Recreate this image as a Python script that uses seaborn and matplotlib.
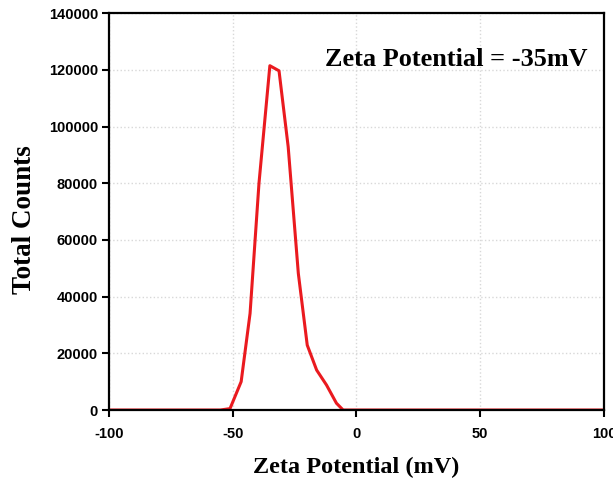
import matplotlib
matplotlib.use("Agg")
import matplotlib.pyplot as plt
import seaborn as sns
import pandas as pd

zeta_mv = [-100, -55, -51.1, -46.6, -43.0, -39.4, -35.0, -31.3, -27.6, -23.5,
           -19.9, -16.1, -12.1, -8.1, -5.4, 100]
counts = [0, 0, 500, 10000, 34100, 80000, 121500, 119700, 92900, 48200,
          22900, 14100, 8800, 2400, 0, 0]
x_ticks = [-100, -50, 0, 50, 100]
y_ticks = [0, 20000, 40000, 60000, 80000, 100000, 120000, 140000]
annotation = "Zeta Potential = -35mV"

df = pd.DataFrame({"Zeta": zeta_mv, "Counts": counts})

sns.set_style("white")
plt.rcParams["text.color"] = "black"
plt.rcParams["axes.labelcolor"] = "black"
plt.rcParams["xtick.color"] = "black"
plt.rcParams["ytick.color"] = "black"

fig = plt.figure(figsize=(6.13, 4.83), dpi=100)
ax = fig.add_axes([0.1778, 0.1511, 0.8075, 0.8214])

sns.lineplot(data=df, x="Zeta", y="Counts", ax=ax, color="#ea1a1f",
             linewidth=2.2, sort=False)

ax.set_xlim(-100, 100)
ax.set_ylim(0, 140000)
ax.set_xticks(x_ticks)
ax.set_yticks(y_ticks)
ax.set_xticklabels([str(v) for v in x_ticks], fontfamily="Liberation Sans",
                   fontweight="bold", fontsize=10.5, color="black")
ax.set_yticklabels([str(v) for v in y_ticks], fontfamily="Liberation Sans",
                   fontweight="bold", fontsize=10.5, color="black")
ax.grid(True, color="#d8d8d8", linestyle=":", linewidth=1)
ax.tick_params(direction="out", length=5, width=1.5, color="black",
               left=True, bottom=True)
ax.tick_params(axis="x", pad=7)
ax.tick_params(axis="y", pad=3)
for s in ax.spines.values():
    s.set_color("black")
    s.set_linewidth(1.6)

ax.set_xlabel("Zeta Potential (mV)", fontfamily="Liberation Serif",
              fontweight="bold", fontsize=17.5, labelpad=12, color="black")
ax.set_ylabel("Total Counts", fontfamily="Liberation Serif",
              fontweight="bold", fontsize=19.5, color="black")
ax.yaxis.set_label_coords(-0.146, 0.481)
ax.text(0.966, 0.884, annotation, transform=ax.transAxes, ha="right",
        va="center", fontfamily="Liberation Serif", fontweight="bold",
        fontsize=18.9, color="black")

fig.savefig("out.png", dpi=100)
